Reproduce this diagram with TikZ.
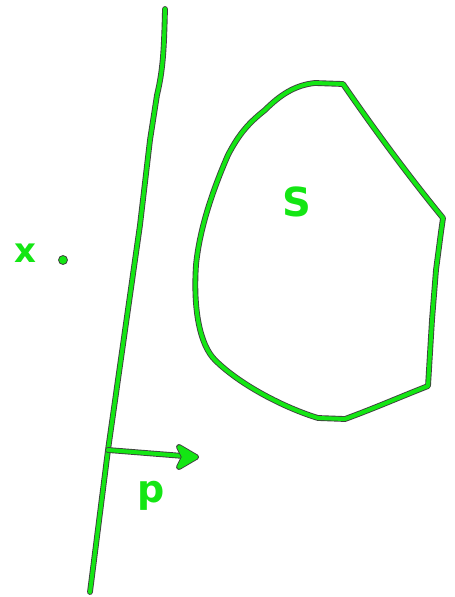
\documentclass[tikz,border=0pt]{standalone}
\usepackage{fontspec}
\setmainfont{DejaVu Sans}
\usetikzlibrary{arrows.meta}
\definecolor{pen}{RGB}{20,230,20}
\tikzset{
  ink/.style={draw=pen, line width=4pt, line cap=round, line join=round,
     preaction={draw=black!75, line width=5.8pt, line cap=round, line join=round}},
  lbl/.style={text=pen, font=\fontsize{40}{40}\selectfont\bfseries, inner sep=0pt}
}
\begin{document}
\begin{tikzpicture}[x=1pt,y=-1pt]
\useasboundingbox (0,0) rectangle (455,597);
% line
\coordinate (ltop) at (165,9);
\coordinate (lbot) at (90,592);
\coordinate (foot) at (108,450);
\coordinate (head) at (196,457);
\draw[ink] (ltop) .. controls (164,50) and (163,70) .. (157,95)
  -- (150,140) -- (140,225) -- (foot) -- (lbot);
% arrow
\draw[ink] (foot) -- (head);
\draw[ink, fill=pen, preaction={draw=black!75, fill=black!75}] (head) -- (179,447) -- (184,457) -- (179,467) -- cycle;
% set S
\draw[ink] (343,84) -- (315,83) .. controls (295,85) and (280,95) .. (265,110)
  .. controls (250,122) and (240,132) .. (228,155)
  .. controls (215,185) and (200,225) .. (196,265)
  .. controls (193,310) and (200,345) .. (215,360)
  .. controls (240,385) and (285,408) .. (318,418)
  -- (345,419) .. controls (375,408) and (400,397) .. (428,386)
  -- (432,320) -- (436,270) -- (441,232) -- (443,218)
  .. controls (420,190) and (385,145) .. cycle;
% labels
\node[lbl] (S) at (297,202) {S};
\node[lbl, font=\fontsize{34}{34}\selectfont\bfseries] (x) at (25,253) {x};
\node[circle, fill=pen, draw=black!75, line width=0.8pt, minimum size=9pt, inner sep=0pt] (pt) at (63,260) {};
\node[lbl, font=\fontsize{38}{38}\selectfont\bfseries] (p) at (151,496) {p};
\end{tikzpicture}
\end{document}
